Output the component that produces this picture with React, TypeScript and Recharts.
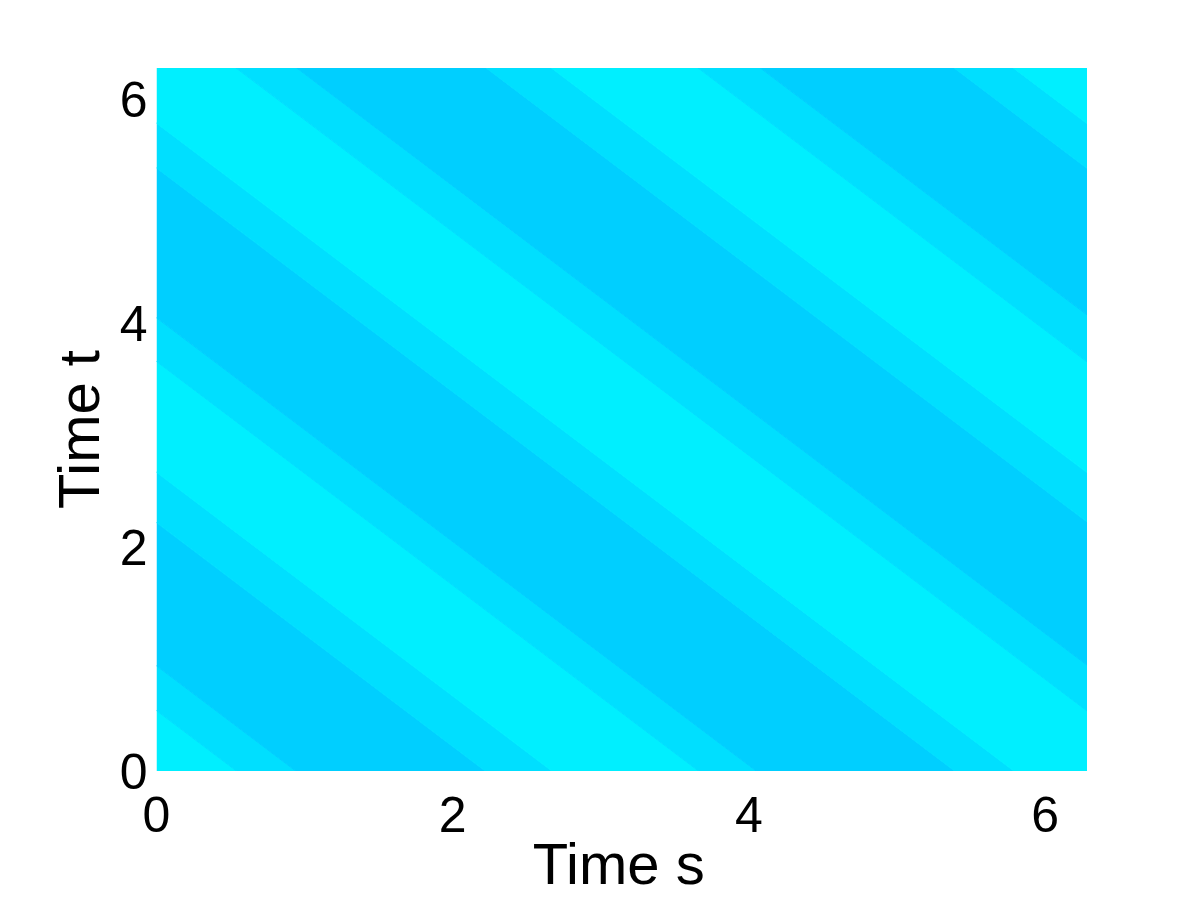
import React from 'react';
import { ComposedChart, Area, XAxis, YAxis } from 'recharts';

const FONT = '"Liberation Sans", Arial, Helvetica, sans-serif';
const S_MAX = 6.2832;
const T_MAX = 6.2832;

const axisTicks = [0, 2, 4, 6];

const bandEdges = [-1, 0.54, 0.94, 2.22, 2.67, 3.66, 4.05, 5.39, 5.79, 6.82, 7.23, 8.51, 8.95, 9.94, 10.36, 11.67, 12.07, 14];
const bandShades = [
    'light', 'medium', 'dark', 'medium',
    'light', 'medium', 'dark', 'medium',
    'light', 'medium', 'dark', 'medium',
    'light', 'medium', 'dark', 'medium',
    'light',
];
const shadeColors: Record<string, string> = {
    light: '#00EFFF',
    medium: '#00DFFF',
    dark: '#00CFFF',
};

// bands are straight strips s + t = const, so two columns (left and right edge) are enough
const sColumns = [0, S_MAX];

const rows = sColumns.map((s) => {
    const row: Record<string, any> = { s };
    bandShades.forEach((_, i) => {
        row['band' + i] = [bandEdges[i] - s, bandEdges[i + 1] - s];
    });
    return row;
});

const XTitle = (props: any) => {
    const { x, y, width } = props.viewBox;
    return (
        <text x={x + width / 2 - 3} y={y + 113} textAnchor="middle" fontSize={58} fontFamily={FONT} fill="#000">
            Time s
        </text>
    );
};

const YTitle = (props: any) => {
    const { y, height } = props.viewBox;
    const cx = 91;
    const cy = y + height / 2 + 10;
    return (
        <text x={cx} y={cy} transform={`rotate(-90, ${cx}, ${cy})`} textAnchor="middle" fontSize={58} fontFamily={FONT} fill="#000">
            Time t
        </text>
    );
};

const App: React.FC = () => {
    return (
        <div style={{ width: 1184, height: 892 }}>
            <ComposedChart
                width={1184}
                height={892}
                data={rows}
                margin={{ top: 60, right: 105, bottom: 0, left: 0 }}
            >
                <XAxis
                    dataKey="s"
                    type="number"
                    domain={[0, S_MAX]}
                    ticks={axisTicks}
                    allowDataOverflow
                    axisLine={false}
                    tickLine={false}
                    tickSize={0}
                    tickMargin={25}
                    height={129}
                    tick={{ fill: '#000', fontSize: 50, fontFamily: FONT }}
                    label={XTitle}
                />
                <YAxis
                    type="number"
                    domain={[0, T_MAX]}
                    ticks={axisTicks}
                    allowDataOverflow
                    axisLine={false}
                    tickLine={false}
                    tickSize={0}
                    tickMargin={9}
                    width={148.5}
                    tick={{ fill: '#000', fontSize: 50, fontFamily: FONT }}
                    label={YTitle}
                />
                {bandShades.map((shade, i) => (
                    <Area
                        key={i}
                        dataKey={'band' + i}
                        type="linear"
                        stroke={shadeColors[shade]}
                        strokeWidth={1}
                        fill={shadeColors[shade]}
                        fillOpacity={1}
                        dot={false}
                        activeDot={false}
                        isAnimationActive={false}
                    />
                ))}
            </ComposedChart>
        </div>
    );
};

export default App;
